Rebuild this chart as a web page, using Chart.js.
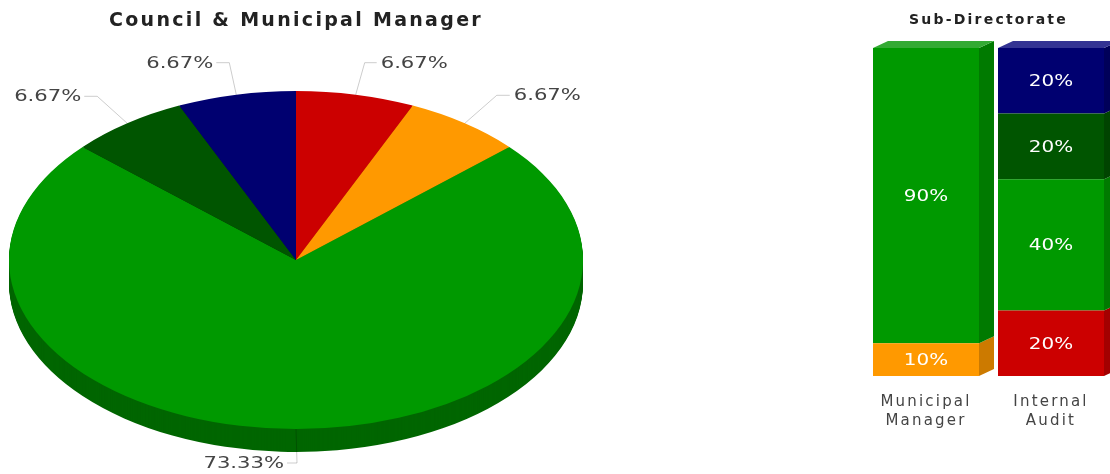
<!DOCTYPE html>
<html>
<head>
<meta charset="utf-8">
<title>Council & Municipal Manager</title>
<script src="https://cdn.jsdelivr.net/npm/chart.js@4"></script>
<style>
  html, body { margin: 0; padding: 0; background: #fff; overflow: hidden; }
  body { width: 1110px; height: 474px; position: relative; }
  canvas { position: absolute; top: 0; }
  #pie-chart { left: 0; }
  #bar-chart { left: 850px; }
</style>
</head>
<body>
<canvas id="pie-chart" width="592" height="474"></canvas>
<canvas id="bar-chart" width="280" height="474"></canvas>
<script>
// Dados do gráfico de pizza
const pieCategories = ['A', 'B', 'C', 'D', 'E'];
const pieValues = [6.67, 6.67, 73.33, 6.67, 6.67];
const pieColors = ['#cc0000', '#ff9900', '#009900', '#005500', '#000070'];
const pieSideColors = ['#990000', '#cc7a00', '#006600', '#003300', '#000050'];

// Dados do gráfico de barras empilhadas
const barCategories = [['Municipal', 'Manager'], ['Internal', 'Audit']];
const orangeShare = [10, null];
const redShare = [null, 20];
const greenShare = [90, 40];
const darkGreenShare = [null, 20];
const navyShare = [null, 20];

const textColor = '#444444';
const squash = 169 / 287;
const pieRadius = 287;
const pieDepth = 23;
// cotovelo da linha guia, relativo à borda da fatia
const elbowOffsets = [[9, -32], [32, -28], [1, 34], [-30, -27], [-7, -32]];
const leaderLengths = [12, 13, 10, 13, 13];
const barDepthX = 15;
const barDepthY = 7;

function wideText(ctx, text, x, y, sx, align) {
  ctx.save();
  ctx.translate(x, y);
  ctx.scale(sx, 1);
  ctx.textAlign = align;
  ctx.textBaseline = 'middle';
  ctx.fillText(text, 0, 0);
  ctx.restore();
}

function spacingPlugin(spacing) {
  return {
    id: 'spacing',
    beforeLayout(chart) { chart.ctx.letterSpacing = spacing; },
    beforeDraw(chart) { chart.ctx.letterSpacing = spacing; }
  };
}

// Achata o pizza em elipse e desenha a lateral 3D
const flatPie = {
  id: 'flatPie',
  beforeDatasetDraw(chart, args) {
    const ctx = chart.ctx;
    const arcs = args.meta.data;
    const cx = arcs[0].x;
    const cy = arcs[0].y;
    for (let d = pieDepth; d >= 1; d--) {
      arcs.forEach((arc, i) => {
        ctx.save();
        ctx.translate(cx, cy + d);
        ctx.scale(1, squash);
        ctx.beginPath();
        ctx.moveTo(0, 0);
        ctx.arc(0, 0, arc.outerRadius, arc.startAngle, arc.endAngle);
        ctx.closePath();
        ctx.fillStyle = pieSideColors[i];
        ctx.fill();
        ctx.restore();
      });
    }
    ctx.save();
    ctx.translate(cx, cy);
    ctx.scale(1, squash);
    ctx.translate(-cx, -cy);
  },
  afterDatasetDraw(chart) {
    chart.ctx.restore();
  },
  afterDatasetsDraw(chart) {
    const ctx = chart.ctx;
    const arcs = chart.getDatasetMeta(0).data;
    arcs.forEach((arc, i) => {
      const a = (arc.startAngle + arc.endAngle) / 2;
      const rimX = arc.x + arc.outerRadius * Math.cos(a);
      const rimY = arc.y + arc.outerRadius * squash * Math.sin(a);
      const elbowX = rimX + elbowOffsets[i][0];
      const elbowY = rimY + elbowOffsets[i][1];
      const left = i >= 2;
      const endX = elbowX + (left ? -leaderLengths[i] : leaderLengths[i]);
      ctx.beginPath();
      ctx.moveTo(rimX, rimY);
      ctx.lineTo(elbowX, elbowY);
      ctx.lineTo(endX, elbowY);
      ctx.strokeStyle = 'rgba(0, 0, 0, 0.2)';
      ctx.lineWidth = 1;
      ctx.stroke();
      ctx.fillStyle = textColor;
      ctx.font = '16px "DejaVu Sans"';
      ctx.letterSpacing = '0px';
      wideText(ctx, pieValues[i].toFixed(2) + '%', endX + (left ? -3 : 4), elbowY + 1, 1.32, left ? 'right' : 'left');
      ctx.letterSpacing = '2.3px';
    });
  }
};

new Chart(document.getElementById('pie-chart'), {
  type: 'pie',
  data: {
    labels: pieCategories,
    datasets: [{
      data: pieValues,
      backgroundColor: pieColors,
      borderWidth: 0,
      clip: false
    }]
  },
  options: {
    responsive: false,
    animation: false,
    radius: pieRadius,
    layout: { padding: 0 },
    plugins: {
      legend: { display: false },
      tooltip: { enabled: false },
      title: {
        display: true,
        text: 'Council & Municipal Manager',
        color: '#222222',
        font: { family: 'DejaVu Sans', size: 19, weight: 'bold' },
        padding: { top: 9.6, bottom: 13.6 }
      }
    }
  },
  plugins: [spacingPlugin('2.3px'), flatPie]
});

// Faces 3D das barras e rótulos brancos
const bar3d = {
  id: 'bar3d',
  afterDatasetsDraw(chart) {
    const ctx = chart.ctx;
    const yScale = chart.scales.y;
    chart.data.datasets.forEach((ds, di) => {
      chart.getDatasetMeta(di).data.forEach((bar, i) => {
        if (ds.data[i] === null) return;
        const p = bar.getProps(['x', 'y', 'base', 'width'], true);
        const x2 = p.x + p.width / 2;
        const x1 = p.x - p.width / 2;
        ctx.fillStyle = ds.sideColor;
        ctx.beginPath();
        ctx.moveTo(x2, p.y);
        ctx.lineTo(x2 + barDepthX, p.y - barDepthY);
        ctx.lineTo(x2 + barDepthX, p.base - barDepthY);
        ctx.lineTo(x2, p.base);
        ctx.closePath();
        ctx.fill();
        if (Math.abs(p.y - yScale.getPixelForValue(100)) < 1) {
          ctx.fillStyle = ds.topColor;
          ctx.beginPath();
          ctx.moveTo(x1, p.y);
          ctx.lineTo(x1 + barDepthX, p.y - barDepthY);
          ctx.lineTo(x2 + barDepthX, p.y - barDepthY);
          ctx.lineTo(x2, p.y);
          ctx.closePath();
          ctx.fill();
        }
        ctx.fillStyle = '#ffffff';
        ctx.font = '15px "DejaVu Sans"';
        ctx.letterSpacing = '0px';
        wideText(ctx, ds.data[i] + '%', p.x, (p.y + p.base) / 2 + 1.5, 1.33, 'center');
        ctx.letterSpacing = '2.2px';
      });
    });
  }
};

function barSeries(values, color, sideColor, topColor) {
  return {
    data: values,
    backgroundColor: color,
    sideColor: sideColor,
    topColor: topColor,
    borderWidth: 0,
    barPercentage: 0.848,
    categoryPercentage: 1
  };
}

new Chart(document.getElementById('bar-chart'), {
  type: 'bar',
  data: {
    labels: barCategories,
    datasets: [
      barSeries(orangeShare, '#ff9900', '#cc7a00', '#ffad33'),
      barSeries(redShare, '#cc0000', '#a30000', '#d63333'),
      barSeries(greenShare, '#009900', '#007a00', '#33aa33'),
      barSeries(darkGreenShare, '#005500', '#004400', '#337733'),
      barSeries(navyShare, '#000070', '#000059', '#333393')
    ]
  },
  options: {
    responsive: false,
    animation: false,
    layout: { padding: { left: 13.5, right: 16.5, bottom: 35 } },
    plugins: {
      legend: { display: false },
      tooltip: { enabled: false },
      title: {
        display: true,
        text: 'Sub-Directorate',
        color: '#222222',
        font: { family: 'DejaVu Sans', size: 14, weight: 'bold' },
        padding: { top: 11.6, bottom: 19.6 }
      }
    },
    scales: {
      x: {
        stacked: true,
        grid: { display: false },
        border: { display: false },
        ticks: {
          color: textColor,
          padding: 8,
          autoSkip: false,
          maxRotation: 0,
          font: { family: 'DejaVu Sans', size: 15, lineHeight: 1.3 }
        }
      },
      y: {
        stacked: true,
        display: false,
        min: 0,
        max: 100
      }
    }
  },
  plugins: [spacingPlugin('2.2px'), bar3d]
});
</script>
</body>
</html>
